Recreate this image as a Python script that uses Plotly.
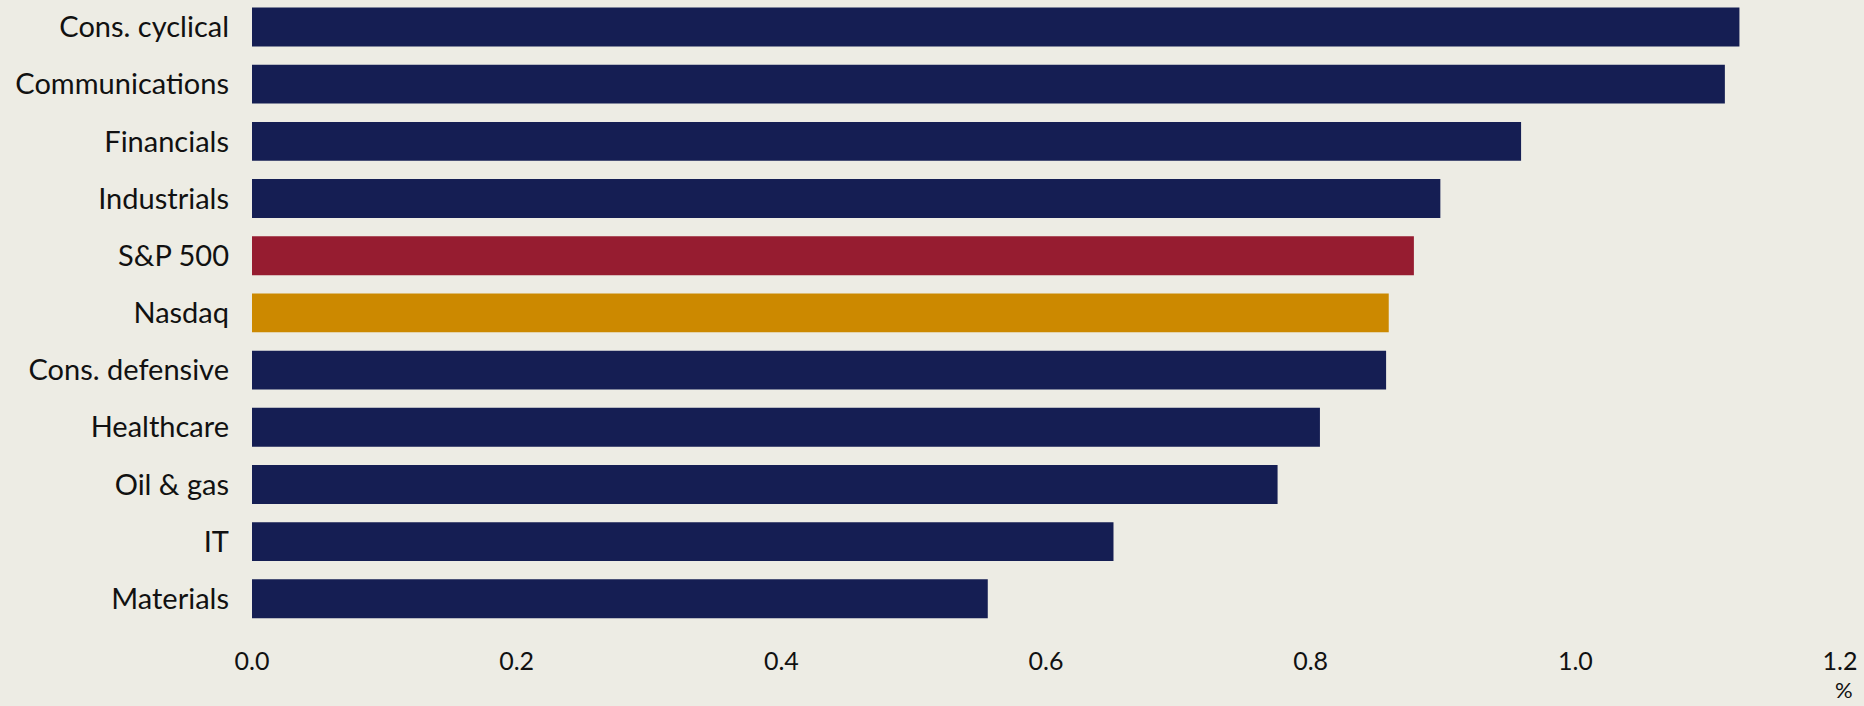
import plotly.graph_objects as go

categories = ["Cons. cyclical", "Communications", "Financials", "Industrials", "S&P 500",
              "Nasdaq", "Cons. defensive", "Healthcare", "Oil & gas", "IT", "Materials"]
values = [1.124, 1.113, 0.959, 0.898, 0.878, 0.859, 0.857, 0.807, 0.775, 0.651, 0.556]
NAVY = "#151E53"
colors = [NAVY, NAVY, NAVY, NAVY, "#961C30", "#CC8900", NAVY, NAVY, NAVY, NAVY, NAVY]
x_ticks = [0.0, 0.2, 0.4, 0.6, 0.8, 1.0, 1.2]
x_tick_labels = ["0.0", "0.2", "0.4", "0.6", "0.8", "1.0", "1.2"]
unit_label = "%"

BG = "#EDECE4"
FONT = "Lato"

fig = go.Figure(go.Bar(
    x=values, y=categories, orientation="h",
    marker=dict(color=colors, line=dict(width=0)),
    width=0.68,
))

fig.update_layout(
    width=1864, height=706,
    paper_bgcolor=BG, plot_bgcolor=BG,
    margin=dict(l=252, r=24, t=0, b=77, pad=0),
    showlegend=False,
    font=dict(family=FONT, size=24, color="#111111"),
    annotations=[dict(
        x=1.2, y=-0.1215, xref="x", yref="paper", text=unit_label, showarrow=False,
        xanchor="center", yanchor="bottom", xshift=4,
        font=dict(family=FONT, size=22, color="#111111"),
    )],
)
fig.update_xaxes(
    range=[0, 1.2], tickvals=x_ticks, ticktext=x_tick_labels,
    showgrid=False, zeroline=False, showline=False, ticks="",
    tickfont=dict(family=FONT, size=25, color="#111111"),
    ticklabelstandoff=15,
)
fig.update_yaxes(
    categoryorder="array", categoryarray=categories,
    range=[10.528, -0.472],
    showgrid=False, zeroline=False, showline=False, ticks="",
    tickfont=dict(family=FONT, size=29, color="#111111"),
    ticklabelstandoff=22,
)

fig.write_html("out.html")
